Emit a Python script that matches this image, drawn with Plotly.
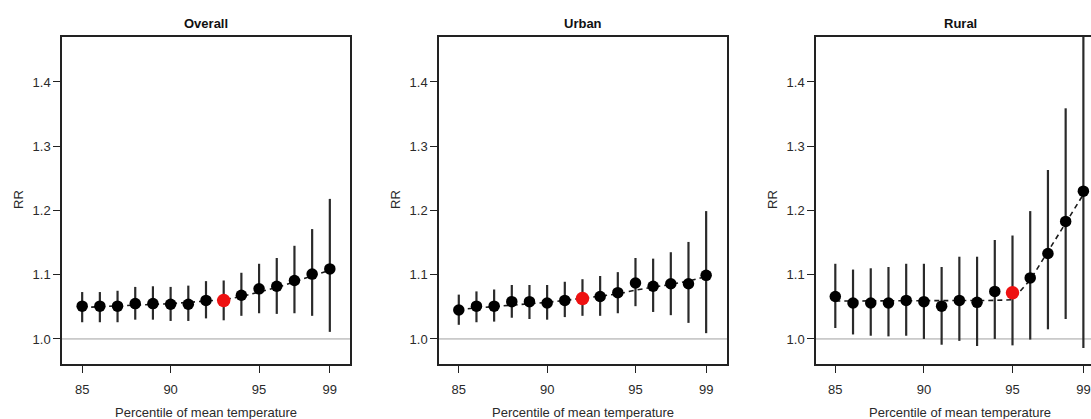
import plotly.graph_objects as go

# ---------------- data ----------------
percentiles = [85, 86, 87, 88, 89, 90, 91, 92, 93, 94, 95, 96, 97, 98, 99]
panel_titles = ["Overall", "Urban", "Rural"]
x_tick_vals = [85, 90, 95, 99]
y_tick_vals = [1.0, 1.1, 1.2, 1.3, 1.4]
y_tick_text = ["1.0", "1.1", "1.2", "1.3", "1.4"]
x_title = "Percentile of mean temperature"
y_title = "RR"

overall_rr = [1.051, 1.051, 1.051, 1.055, 1.055, 1.054, 1.054, 1.060, 1.060, 1.068, 1.078, 1.082, 1.091, 1.101, 1.109]
overall_lo = [1.026, 1.026, 1.026, 1.030, 1.030, 1.028, 1.028, 1.032, 1.029, 1.036, 1.040, 1.039, 1.040, 1.036, 1.011]
overall_hi = [1.073, 1.073, 1.075, 1.081, 1.082, 1.081, 1.083, 1.090, 1.091, 1.103, 1.117, 1.126, 1.145, 1.171, 1.218]
overall_curve = [1.049, 1.050, 1.051, 1.053, 1.054, 1.055, 1.057, 1.059, 1.061, 1.066, 1.073, 1.080, 1.089, 1.098, 1.107]
overall_ref = 93

urban_rr = [1.045, 1.051, 1.051, 1.058, 1.058, 1.056, 1.060, 1.063, 1.066, 1.072, 1.087, 1.082, 1.086, 1.086, 1.099]
urban_lo = [1.022, 1.026, 1.027, 1.033, 1.031, 1.030, 1.034, 1.036, 1.036, 1.040, 1.051, 1.042, 1.037, 1.025, 1.009]
urban_hi = [1.069, 1.074, 1.077, 1.084, 1.084, 1.084, 1.089, 1.093, 1.098, 1.104, 1.126, 1.125, 1.135, 1.151, 1.199]
urban_curve = [1.046, 1.048, 1.050, 1.053, 1.055, 1.057, 1.060, 1.063, 1.066, 1.070, 1.076, 1.080, 1.085, 1.090, 1.097]
urban_ref = 92

rural_rr = [1.066, 1.056, 1.056, 1.056, 1.060, 1.058, 1.051, 1.060, 1.057, 1.074, 1.072, 1.095, 1.133, 1.183, 1.230]
rural_lo = [1.017, 1.007, 1.005, 1.004, 1.005, 1.000, 0.991, 0.997, 0.989, 1.000, 0.990, 0.999, 1.015, 1.031, 0.986]
rural_hi = [1.117, 1.108, 1.110, 1.112, 1.117, 1.117, 1.112, 1.128, 1.128, 1.154, 1.161, 1.199, 1.263, 1.359, 1.520]
rural_curve = [1.059, 1.059, 1.059, 1.059, 1.059, 1.059, 1.059, 1.060, 1.060, 1.060, 1.061, 1.092, 1.136, 1.180, 1.225]
rural_ref = 95

panels = [
    (overall_rr, overall_lo, overall_hi, overall_curve, overall_ref),
    (urban_rr, urban_lo, urban_hi, urban_curve, urban_ref),
    (rural_rr, rural_lo, rural_hi, rural_curve, rural_ref),
]

# ---------------- layout geometry ----------------
W, H = 1091, 419
FONT = "Liberation Sans, Arial, sans-serif"
box_left = [62, 439, 816]
box_right = [350, 727, 1091]
x_ranges = [[83.86, 100.14], [83.88, 100.18], [83.91, 99.43]]
y_range = [0.961, 1.470]
y_dom = [1 - 364 / H, 1 - 37 / H]

fig = go.Figure()
INK = "#1a1a1a"

for i, (rr, lo, hi, curve, ref) in enumerate(panels):
    sfx = "" if i == 0 else str(i + 1)
    xa, ya = "x" + sfx, "y" + sfx

    # reference line at RR = 1
    fig.add_trace(go.Scatter(x=[x_ranges[i][0], x_ranges[i][1]], y=[1.0, 1.0], mode="lines",
                             line=dict(color="#a0a0a0", width=1), xaxis=xa, yaxis=ya,
                             hoverinfo="skip", showlegend=False))
    # confidence intervals
    cx, cy = [], []
    for p, l, h in zip(percentiles, lo, hi):
        cx += [p, p, None]
        cy += [l, h, None]
    fig.add_trace(go.Scatter(x=cx, y=cy, mode="lines", line=dict(color="#2a2a2a", width=2.2),
                             xaxis=xa, yaxis=ya, hoverinfo="skip", showlegend=False))
    # fitted curve
    fig.add_trace(go.Scatter(x=percentiles, y=curve, mode="lines",
                             line=dict(color=INK, width=1.6, dash="5px,4px"),
                             xaxis=xa, yaxis=ya, hoverinfo="skip", showlegend=False))
    # points
    px = [p for p in percentiles if p != ref]
    py = [v for p, v in zip(percentiles, rr) if p != ref]
    fig.add_trace(go.Scatter(x=px, y=py, mode="markers",
                             marker=dict(color="#000000", size=11.5),
                             xaxis=xa, yaxis=ya, showlegend=False))
    fig.add_trace(go.Scatter(x=[ref], y=[rr[percentiles.index(ref)]], mode="markers",
                             marker=dict(color="#ee1111", size=13.5),
                             xaxis=xa, yaxis=ya, showlegend=False))

    dom = [box_left[i] / W, box_right[i] / W]
    axis_common = dict(showgrid=False, zeroline=False, showline=True, linecolor="#222222",
                       linewidth=1.5, ticks="outside", ticklen=7, tickwidth=1.2,
                       tickcolor="#222222", tickfont=dict(family=FONT, size=13, color="#2a2a2a"))
    fig.layout["xaxis" + sfx] = dict(domain=dom, range=x_ranges[i], tickvals=x_tick_vals,
                                     mirror=True, anchor=ya, ticklabelstandoff=6,
                                     **axis_common)
    fig.layout["yaxis" + sfx] = dict(domain=y_dom, range=y_range, tickvals=y_tick_vals,
                                     ticktext=y_tick_text, mirror=(i < 2), anchor=xa,
                                     **axis_common)

    center = (box_left[i] + box_right[i] + (13 if i == 2 else 0)) / 2 / W
    fig.add_annotation(text="<b>" + panel_titles[i] + "</b>", x=center, y=1 - 23 / H,
                       xref="paper", yref="paper", xanchor="center", yanchor="middle",
                       showarrow=False, font=dict(family=FONT, size=13, color="#111111"))
    fig.add_annotation(text=x_title, x=center, y=1 - 412 / H, xref="paper", yref="paper",
                       xanchor="center", yanchor="middle",
                       showarrow=False, font=dict(family=FONT, size=13, color="#2a2a2a"))
    fig.add_annotation(text=y_title, x=(box_left[i] - 43) / W, y=1 - 200 / H, xref="paper",
                       yref="paper", xanchor="center", yanchor="middle",
                       showarrow=False, textangle=-90,
                       font=dict(family=FONT, size=13, color="#2a2a2a"))

fig.update_layout(width=W, height=H, margin=dict(l=0, r=0, t=0, b=0),
                  paper_bgcolor="white", plot_bgcolor="white", showlegend=False)

fig.write_html("out.html", config={"displayModeBar": False},
               post_script="document.body.style.margin='0';document.body.style.overflow='hidden';")
